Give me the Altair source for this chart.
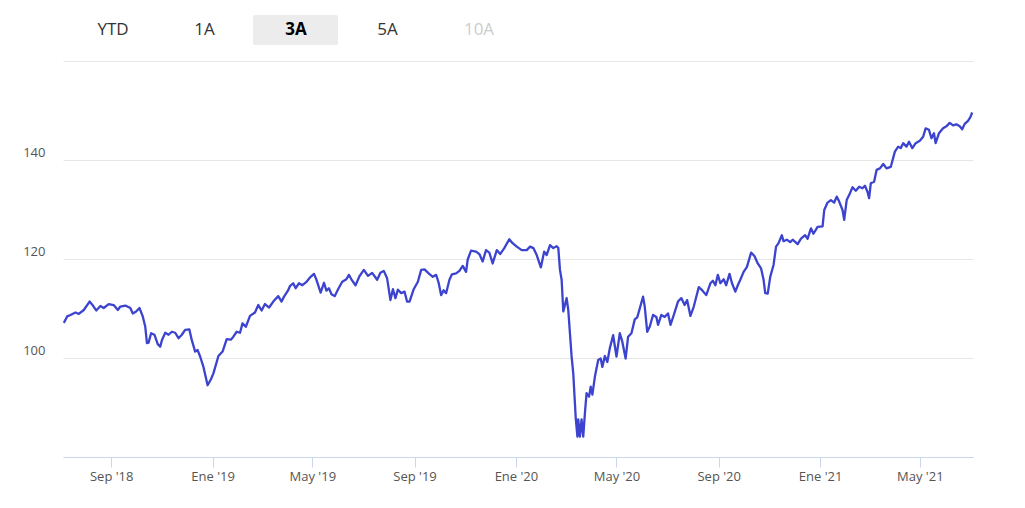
import altair as alt
import pandas as pd

# ---- data ----
dates = [
    "2018-07-06","2018-07-10","2018-07-14","2018-07-20","2018-07-24","2018-07-30","2018-08-06","2018-08-10",
    "2018-08-14","2018-08-19","2018-08-23","2018-08-29","2018-09-04","2018-09-09","2018-09-12","2018-09-18",
    "2018-09-24","2018-09-27","2018-10-01","2018-10-05","2018-10-09","2018-10-12","2018-10-14","2018-10-16",
    "2018-10-19","2018-10-23","2018-10-27","2018-10-30","2018-11-01","2018-11-05","2018-11-09","2018-11-13",
    "2018-11-17","2018-11-21","2018-11-25","2018-11-29","2018-12-04","2018-12-07","2018-12-11","2018-12-14",
    "2018-12-17","2018-12-21","2018-12-26","2018-12-30","2019-01-02","2019-01-08","2019-01-13","2019-01-18",
    "2019-01-23","2019-01-26","2019-01-30","2019-02-03","2019-02-06","2019-02-10","2019-02-15","2019-02-21",
    "2019-02-25","2019-03-01","2019-03-05","2019-03-10","2019-03-15","2019-03-21","2019-03-25","2019-03-28",
    "2019-04-02","2019-04-04","2019-04-08","2019-04-11","2019-04-15","2019-04-19","2019-04-24","2019-04-29",
    "2019-05-03","2019-05-06","2019-05-11","2019-05-15","2019-05-18","2019-05-21","2019-05-24","2019-05-28",
    "2019-06-01","2019-06-06","2019-06-11","2019-06-14","2019-06-17","2019-06-22","2019-06-27","2019-07-02",
    "2019-07-07","2019-07-12","2019-07-18","2019-07-22","2019-07-26","2019-07-30","2019-08-03","2019-08-06",
    "2019-08-09","2019-08-12","2019-08-16","2019-08-20","2019-08-23","2019-08-26","2019-08-31","2019-09-05",
    "2019-09-09","2019-09-13","2019-09-18","2019-09-23","2019-09-27","2019-09-30","2019-10-03","2019-10-06",
    "2019-10-09","2019-10-13","2019-10-16","2019-10-21","2019-10-25","2019-10-29","2019-11-02","2019-11-04",
    "2019-11-08","2019-11-14","2019-11-18","2019-11-22","2019-11-26","2019-11-30","2019-12-04","2019-12-09",
    "2019-12-13","2019-12-18","2019-12-24","2019-12-28","2020-01-02","2020-01-08","2020-01-14","2020-01-18",
    "2020-01-22","2020-01-26","2020-01-31","2020-02-04","2020-02-07","2020-02-11","2020-02-15","2020-02-19",
    "2020-02-21","2020-02-23","2020-02-25","2020-02-27","2020-03-02","2020-03-04","2020-03-06","2020-03-08",
    "2020-03-10","2020-03-12","2020-03-13","2020-03-15","2020-03-16","2020-03-18","2020-03-20","2020-03-22",
    "2020-03-24","2020-03-26","2020-03-29","2020-03-31","2020-04-02","2020-04-05","2020-04-09","2020-04-12",
    "2020-04-14","2020-04-17","2020-04-20","2020-04-23","2020-04-27","2020-05-01","2020-05-05","2020-05-08",
    "2020-05-12","2020-05-15","2020-05-19","2020-05-23","2020-05-26","2020-05-29","2020-06-02","2020-06-04",
    "2020-06-07","2020-06-10","2020-06-14","2020-06-18","2020-06-20","2020-06-24","2020-06-28","2020-07-02",
    "2020-07-05","2020-07-09","2020-07-14","2020-07-18","2020-07-22","2020-07-25","2020-07-29","2020-08-02",
    "2020-08-08","2020-08-12","2020-08-17","2020-08-22","2020-08-25","2020-08-28","2020-08-31","2020-09-03",
    "2020-09-07","2020-09-10","2020-09-14","2020-09-17","2020-09-21","2020-09-24","2020-09-27","2020-10-01",
    "2020-10-05","2020-10-10","2020-10-14","2020-10-18","2020-10-22","2020-10-25","2020-10-27","2020-10-30",
    "2020-11-02","2020-11-06","2020-11-09","2020-11-12","2020-11-16","2020-11-18","2020-11-22","2020-11-26",
    "2020-11-29","2020-12-05","2020-12-09","2020-12-14","2020-12-17","2020-12-21","2020-12-24","2020-12-29",
    "2021-01-04","2021-01-06","2021-01-10","2021-01-14","2021-01-18","2021-01-21","2021-01-24","2021-01-28",
    "2021-01-30","2021-02-02","2021-02-06","2021-02-09","2021-02-13","2021-02-17","2021-02-21","2021-02-24",
    "2021-02-27","2021-03-01","2021-03-03","2021-03-07","2021-03-10","2021-03-14","2021-03-18","2021-03-22",
    "2021-03-27","2021-04-01","2021-04-05","2021-04-08","2021-04-11","2021-04-15","2021-04-18","2021-04-22",
    "2021-04-26","2021-05-01","2021-05-05","2021-05-08","2021-05-12","2021-05-15","2021-05-18","2021-05-20",
    "2021-05-24","2021-05-29","2021-06-02","2021-06-06","2021-06-10","2021-06-14","2021-06-18","2021-06-21",
    "2021-06-24","2021-06-28","2021-07-01","2021-07-03",
]
values = [
    107.1,108.4,108.7,109.2,108.9,109.7,111.4,110.6,
    109.6,110.5,110.1,110.9,110.7,109.7,110.4,110.6,
    110.1,109.0,109.4,110.1,108.4,106.3,103.0,103.1,
    105.0,104.7,102.8,102.3,103.6,105.1,104.7,105.3,
    105.1,104.0,104.7,105.7,105.8,103.6,101.3,101.6,
    100.3,98.2,94.5,95.7,96.9,100.4,101.3,103.8,
    103.7,104.3,105.3,105.1,107.0,106.3,108.5,109.2,
    110.7,109.6,110.9,110.2,111.4,112.5,111.4,112.4,
    113.7,114.5,115.1,114.1,115.1,114.7,115.4,116.4,
    117.0,115.8,113.2,115.2,113.6,114.1,112.9,112.5,
    113.9,115.4,115.9,116.8,115.9,114.7,116.6,117.8,
    116.6,117.2,115.8,117.2,117.6,116.1,111.7,113.9,
    112.1,113.8,113.1,113.4,111.4,111.4,113.9,115.4,
    117.8,117.9,117.1,116.4,116.8,115.2,112.7,113.7,
    113.1,115.8,116.9,117.1,117.6,118.6,117.4,119.9,
    121.7,121.5,121.0,119.5,121.8,121.3,119.1,121.8,
    121.0,122.2,124.0,123.2,122.5,121.8,121.8,122.5,
    122.2,120.8,118.3,121.5,120.8,122.8,122.2,122.6,
    122.2,117.8,115.8,109.4,112.1,109.7,105.0,100.3,
    96.9,90.8,87.8,84.1,87.6,84.1,87.6,84.1,
    88.8,92.9,92.2,94.2,92.6,96.2,99.6,99.9,
    98.2,100.4,99.2,102.0,104.6,100.3,105.0,103.3,
    99.9,104.3,105.0,107.8,108.2,110.0,112.4,110.4,
    105.3,106.3,108.7,108.3,106.7,108.7,108.3,109.0,
    106.7,108.7,111.4,112.1,110.7,111.7,108.5,110.4,
    114.3,113.7,112.7,115.1,115.6,114.7,116.8,115.1,
    115.9,114.7,117.0,115.1,113.4,114.7,115.8,117.4,
    118.4,121.3,120.6,119.1,118.1,115.8,113.1,113.0,
    116.4,118.8,122.5,123.2,124.8,123.6,123.9,123.4,
    123.9,123.0,124.1,124.8,124.1,126.2,125.1,126.5,
    126.6,129.9,131.4,131.9,131.4,132.6,131.6,129.9,
    127.9,131.9,133.3,134.5,133.8,134.6,134.3,134.8,
    133.6,132.3,135.3,135.6,138.0,138.3,139.2,138.3,
    138.6,141.7,142.7,142.4,143.4,142.7,143.7,142.4,
    143.4,143.9,144.7,146.4,146.1,144.4,145.4,143.4,
    145.4,146.4,146.8,147.5,147.0,147.2,146.8,146.2,
    147.3,147.9,148.7,149.6,
]

y_ticks = [80, 100, 120, 140, 160]
x_tick_dates = ["2018-09-01","2019-01-01","2019-05-01","2019-09-01","2020-01-01",
                "2020-05-01","2020-09-01","2021-01-01","2021-05-01"]
month_names = ["Ene","Feb","Mar","Abr","May","Jun","Jul","Ago","Sep","Oct","Nov","Dic"]
buttons = ["YTD", "1A", "3A", "5A", "10A"]
selected_button = "3A"
disabled_buttons = ["10A"]

# ---- build ----
df = pd.DataFrame({"date": dates, "value": values})

FONT = "Open Sans"
W, H = 910, 396

def dt(s):
    y, m, d = (int(p) for p in s.split("-"))
    return alt.DateTime(year=y, month=m, date=d)

months_js = "[" + ",".join('"%s"' % m for m in month_names) + "]"
x_label_expr = months_js + "[month(datum.value)] + \" '\" + timeFormat(datum.value, '%y')"

line = alt.Chart(df).mark_line(color="#3b43cf", strokeWidth=2.3, strokeJoin="round").encode(
    x=alt.X(
        "date:T",
        scale=alt.Scale(domain=[dt("2018-07-05"), dt("2021-07-04")]),
        axis=alt.Axis(
            values=[dt(s) for s in x_tick_dates],
            labelExpr=x_label_expr,
            title=None,
            grid=False,
            domainColor="#ccd6eb",
            tickColor="#ccd6eb",
            tickSize=10,
            labelPadding=3,
            labelColor="#555555",
            labelFontSize=13,
            labelFont=FONT,
        ),
    ),
    y=alt.Y(
        "value:Q",
        scale=alt.Scale(domain=[y_ticks[0], y_ticks[-1]], nice=False, zero=False),
        axis=alt.Axis(
            values=y_ticks,
            labelExpr="datum.value == %d || datum.value == %d ? '' : datum.label" % (y_ticks[0], y_ticks[-1]),
            title=None,
            domain=False,
            ticks=False,
            gridColor="#e6e6e6",
            gridWidth=1,
            labelPadding=18,
            labelBaseline="bottom",
            labelOffset=-1,
            labelColor="#555555",
            labelFontSize=13,
            labelFont=FONT,
        ),
    ),
)

bdf = pd.DataFrame({"label": buttons, "i": list(range(len(buttons)))})
bdf["state"] = ["sel" if b == selected_button else ("dis" if b in disabled_buttons else "norm") for b in buttons]

sel_idx = buttons.index(selected_button)
highlight = alt.Chart(pd.DataFrame({"i": [sel_idx]})).mark_rect(
    color="#ececec", cornerRadius=2
).transform_calculate(
    x0="50 + datum.i * 91.5 - 43", x1="50 + datum.i * 91.5 + 42"
).encode(
    x=alt.X("x0:Q", scale=None),
    x2="x1:Q",
    y=alt.value(-46),
    y2=alt.value(-16),
)

btn_norm = alt.Chart(bdf).transform_filter("datum.state != 'sel'").transform_calculate(
    px="50 + datum.i * 91.5"
).mark_text(font=FONT, fontSize=17, baseline="middle", align="center").encode(
    x=alt.X("px:Q", scale=None),
    y=alt.value(-31),
    text="label:N",
    color=alt.condition("datum.state == 'dis'", alt.value("#cccccc"), alt.value("#333333")),
)

btn_sel = alt.Chart(bdf).transform_filter("datum.state == 'sel'").transform_calculate(
    px="50 + datum.i * 91.5"
).mark_text(font=FONT, fontSize=17, fontWeight="bold", baseline="middle", align="center",
            color="#000000").encode(
    x=alt.X("px:Q", scale=None),
    y=alt.value(-31),
    text="label:N",
)

chart = alt.layer(line, highlight, btn_norm, btn_sel).properties(
    width=W,
    height=H,
    background="white",
    autosize=alt.AutoSizeParams(type="none"),
    padding={"left": 63, "top": 61, "right": 52, "bottom": 51},
).configure_view(stroke=None, strokeWidth=0)

chart.save("out.html", embed_options={"renderer": "svg", "actions": False})
